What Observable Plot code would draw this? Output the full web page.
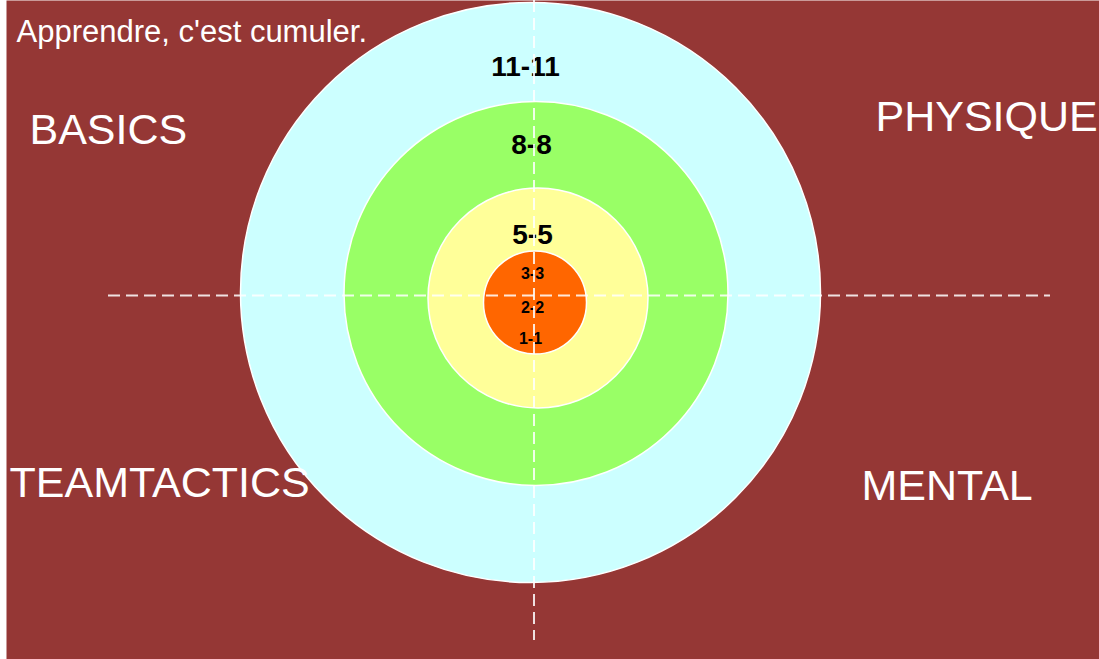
<!DOCTYPE html>
<html>
<head>
<meta charset="utf-8">
<script src="https://cdn.jsdelivr.net/npm/d3@7"></script>
<script src="https://cdn.jsdelivr.net/npm/@observablehq/plot@0.6"></script>
<style>
  html, body { margin: 0; padding: 0; background: #ffffff; }
  #chart { width: 1099px; height: 659px; overflow: hidden; }
</style>
</head>
<body>
<div id="chart"></div>
<script>
// Concentric rings (outer to inner), in chart units centred on the outer ring
const ringNames   = ["11-11", "8-8", "5-5", "3-3"];
const ringCx      = [0, 5.5, 7.5, 4.5];
const ringCy      = [-1, -2, -6.5, -11];
const ringRadius  = [290, 192, 110, 51.5];
const ringColors  = ["#ccffff", "#99ff66", "#ffff99", "#ff6600"];

// Level labels
const levelLabels = ["11-11", "8-8", "5-5", "3-3", "2-2", "1-1"];
const levelX      = [-5, 1, 2, 2, 2, 0];
const levelY      = [224, 146, 56, 18, -16, -47];
const levelSize   = [28, 28, 28, 16, 16, 16];

// Quadrant labels
const quadLabels  = ["BASICS", "PHYSIQUE", "TEAMTACTICS", "MENTAL"];
const quadX       = [-501, 345, -521, 331];
const quadY       = [161, 174, -192, -195];

// Title
const titleText = "Apprendre, c'est cumuler.";
const titleX = [-514];
const titleY = [259];

// Dashed cross lines
const hLine = {y: -4, x1: -422, x2: 520};
const vLine = {x: 3.5, y1: 291, y2: -349};

const rings = ringNames.map((n, i) => ({name: n, x: ringCx[i], y: ringCy[i], r: ringRadius[i], color: ringColors[i]}));
const levels = levelLabels.map((t, i) => ({text: t, x: levelX[i], y: levelY[i], size: levelSize[i]}));
const quads = quadLabels.map((t, i) => ({text: t, x: quadX[i], y: quadY[i]}));

const font = "'Liberation Sans', Arial, Helvetica, sans-serif";

const plot = Plot.plot({
  width: 1099,
  height: 659,
  marginLeft: 6,
  marginRight: 0,
  marginTop: 0,
  marginBottom: 0,
  x: {domain: [-524, 569], axis: null},
  y: {domain: [-368, 291], axis: null},
  r: {type: "identity"},
  style: {background: "#ffffff", fontFamily: font, overflow: "visible"},
  marks: [
    Plot.frame({fill: "#953735", stroke: "none"}),
    Plot.dot(rings, {x: "x", y: "y", r: "r", fill: "color", stroke: "#ffffff", strokeWidth: 1.5}),
    ...levels.map(d => Plot.text([d], {x: "x", y: "y", text: "text", fontSize: d.size, fontWeight: "bold", fill: "#000000"})),
    Plot.text(quads, {x: "x", y: "y", text: "text", textAnchor: "start", fontSize: 43, fill: "#ffffff"}),
    Plot.text([titleText], {x: titleX, y: titleY, text: d => d, textAnchor: "start", fontSize: 31, fill: "#ffffff"}),
    Plot.ruleY([hLine], {y: "y", x1: "x1", x2: "x2", stroke: "#ffffff", strokeOpacity: 0.85, strokeWidth: 2, strokeDasharray: "12,6"}),
    Plot.ruleX([vLine], {x: "x", y1: "y1", y2: "y2", stroke: "#ffffff", strokeOpacity: 0.85, strokeWidth: 2, strokeDasharray: "12,6"})
  ]
});
document.getElementById("chart").appendChild(plot);
</script>
</body>
</html>
